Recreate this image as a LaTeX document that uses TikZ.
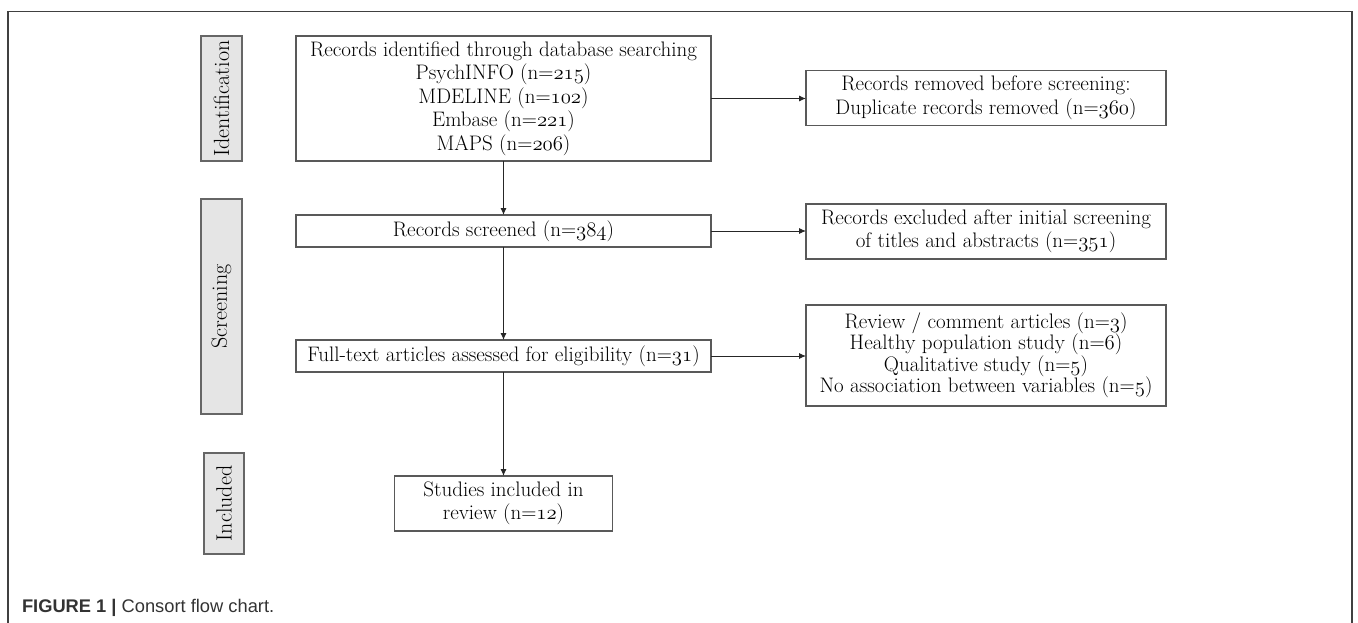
\documentclass[tikz,border=0pt]{standalone}
\usepackage{fontspec}
\newfontfamily\capfont{Liberation Sans}
\usetikzlibrary{arrows.meta}
\newcommand{\osn}[1]{$\mathnormal{#1}$}
\begin{document}
\begin{tikzpicture}[x=1pt,y=-1pt,
  every node/.style={inner sep=0pt,outer sep=0pt},
  flowbox/.style={draw=black!65,line width=1.1pt,fill=white,align=center,
    font=\fontsize{21}{23.5}\selectfont\addfontfeatures{FakeBold=0.3}},
  phasebox/.style={draw=black!60,line width=1.1pt,fill=black!10,rotate=90,
    font=\fontsize{22}{24}\selectfont\addfontfeatures{FakeBold=0.3}},
  flowarrow/.style={draw=black!85,line width=0.9pt,-{Latex[length=7pt,width=6pt]}},
  framestyle/.style={draw=black!75,line width=1.2pt}]
\useasboundingbox (0,0) rectangle (1358,623);
\draw[framestyle] (8,623) -- (8,11.5) -- (1352,11.5) -- (1352,623);
% phase labels
\node[phasebox,minimum width=125,minimum height=41] (idl) at (221.5,98.5) {Identification};
\node[phasebox,minimum width=215,minimum height=41] (scl) at (221.5,306.5) {Screening};
\node[phasebox,minimum width=101,minimum height=40] (inl) at (224,503.5) {Included};
% main column
\node[flowbox,minimum width=415,minimum height=125] (b1) at (503.5,98.5)
  {Records identified through database searching\\
   PsychINFO (n=\osn{215})\\ MDELINE (n=\osn{102})\\ Embase (n=\osn{221})\\ MAPS (n=\osn{206})};
\node[flowbox,minimum width=415,minimum height=32] (b2) at (503.5,231)
  {Records screened (n=\osn{384})};
\node[flowbox,minimum width=415,minimum height=32] (b3) at (503.5,356)
  {Full-text articles assessed for eligibility (n=\osn{31})};
\node[flowbox,minimum width=218,minimum height=55] (b4) at (503.5,503.5)
  {Studies included in\\ review (n=\osn{12})};
% right column
\node[flowbox,minimum width=360,minimum height=55] (r1) at (986,98)
  {Records removed before screening:\\ Duplicate records removed (n=\osn{360})};
\node[flowbox,minimum width=360,minimum height=55] (r2) at (986,231.5)
  {Records excluded after initial screening\\ of titles and abstracts (n=\osn{351})};
\node[flowbox,minimum width=360,minimum height=101,
  font=\fontsize{21}{21.5}\selectfont\addfontfeatures{FakeBold=0.3}] (r3) at (986,355.5)
  {Review / comment articles (n=\osn{3})\\ Healthy population study (n=\osn{6})\\
   Qualitative study (n=\osn{5})\\ No association between variables (n=\osn{5})};
% connectors
\draw[flowarrow] (b1.south) -- (b2.north);
\draw[flowarrow] (b2.south) -- (b3.north);
\draw[flowarrow] (b3.south) -- (b4.north);
\draw[flowarrow] (b1.east) -- (b1.east -| r1.west);
\draw[flowarrow] (b2.east) -- (b2.east -| r2.west);
\draw[flowarrow] (b3.east) -- (b3.east -| r3.west);
% caption
\node[anchor=base west,font=\capfont\fontsize{18.3}{20}\selectfont,text=black!80] (cap) at (22,612)
  {\textbf{FIGURE 1 |} Consort flow chart.};
\end{tikzpicture}
\end{document}
